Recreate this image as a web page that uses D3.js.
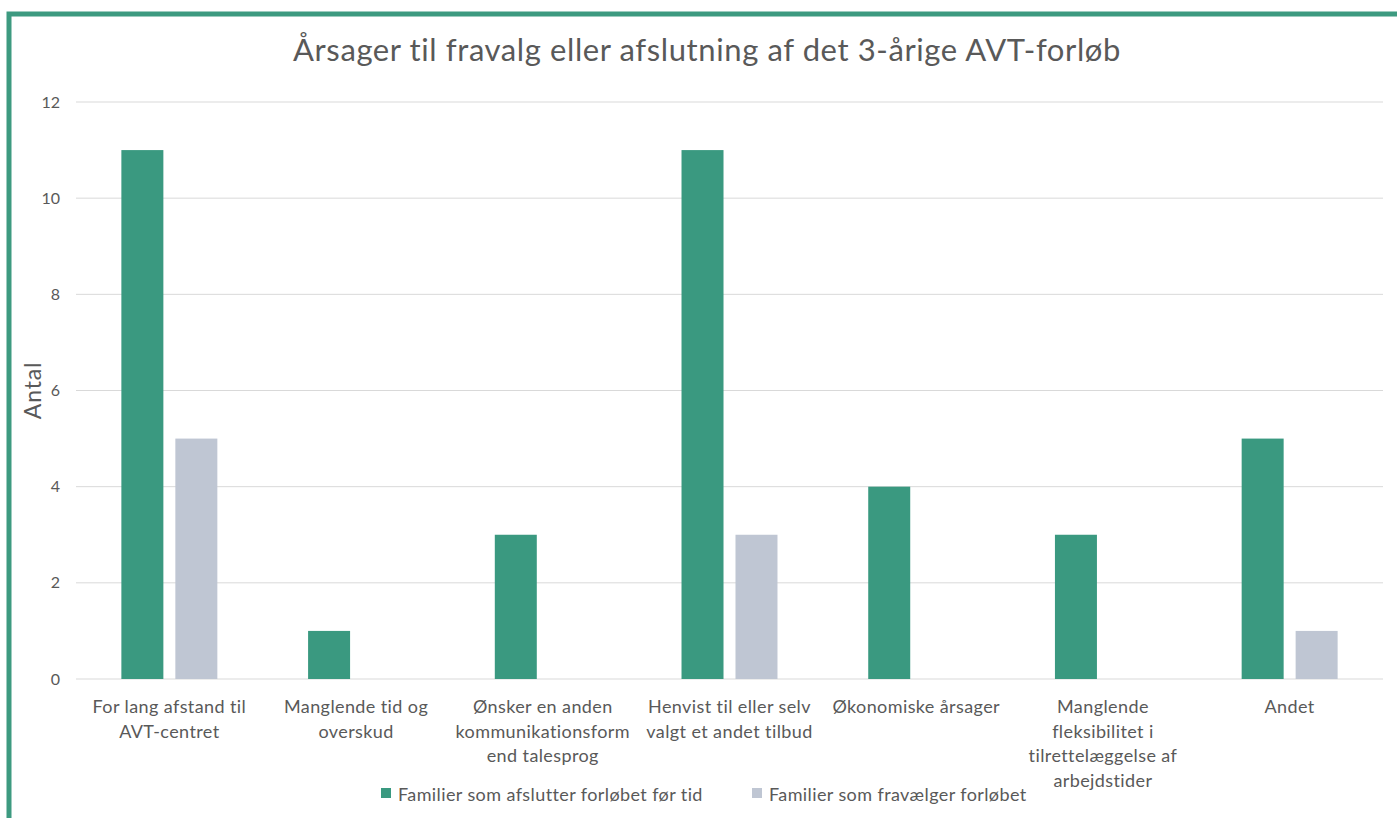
<!DOCTYPE html>
<html>
<head>
<meta charset="utf-8">
<script src="https://cdn.jsdelivr.net/npm/d3@7"></script>
<style>
  body { margin: 0; background: #fff; }
  svg { display: block; font-family: Lato, "Open Sans", sans-serif; }
</style>
</head>
<body>
<div id="chart"></div>
<script>
// data
const categories = [
  "For lang afstand til AVT-centret",
  "Manglende tid og overskud",
  "Ønsker en anden kommunikationsform end talesprog",
  "Henvist til eller selv valgt et andet tilbud",
  "Økonomiske årsager",
  "Manglende fleksibilitet i tilrettelæggelse af arbejdstider",
  "Andet"
];
const categoryLines = [
  ["For lang afstand til", "AVT-centret"],
  ["Manglende tid og", "overskud"],
  ["Ønsker en anden", "kommunikationsform", "end talesprog"],
  ["Henvist til eller selv", "valgt et andet tilbud"],
  ["Økonomiske årsager"],
  ["Manglende", "fleksibilitet i", "tilrettelæggelse af", "arbejdstider"],
  ["Andet"]
];
const seriesNames = ["Familier som afslutter forløbet før tid", "Familier som fravælger forløbet"];
const afslutter = [11, 1, 3, 11, 4, 3, 5];
const fravaelger = [5, 0, 0, 3, 0, 0, 1];
const yTicks = [0, 2, 4, 6, 8, 10, 12];
const colors = ["#3A9980", "#BFC6D3"];

const W = 1397, H = 818;
const margin = { left: 76, right: 14, top: 102, bottom: 139 };
const width = W - margin.left - margin.right;
const height = H - margin.top - margin.bottom;

const svg = d3.select("#chart").append("svg")
  .attr("width", W).attr("height", H);

// outer green frame (cropped screenshot)
svg.append("rect")
  .attr("x", 9).attr("y", 14)
  .attr("width", W + 20).attr("height", H + 20)
  .attr("fill", "none")
  .attr("stroke", "#3D9A80")
  .attr("stroke-width", 5);

svg.append("text")
  .attr("x", 707).attr("y", 61)
  .attr("text-anchor", "middle")
  .attr("font-size", 31)
  .attr("letter-spacing", 0.6)
  .attr("fill", "#595959")
  .text("Årsager til fravalg eller afslutning af det 3-årige AVT-forløb");

const g = svg.append("g")
  .attr("transform", "translate(" + margin.left + "," + margin.top + ")");

const x0 = d3.scaleBand()
  .domain(categories)
  .range([0, width])
  .paddingInner(0.486)
  .paddingOuter(0.243);
const x1 = d3.scaleBand()
  .domain([0, 1])
  .range([0, x0.bandwidth()])
  .paddingInner(0.222);
const y = d3.scaleLinear()
  .domain([0, 12])
  .range([height, 0]);

// gridlines
g.append("g")
  .selectAll("line")
  .data(yTicks)
  .enter()
  .append("line")
  .attr("x1", 0).attr("x2", width)
  .attr("y1", d => y(d)).attr("y2", d => y(d))
  .attr("stroke", "#D9D9D9")
  .attr("stroke-width", 1);

// y axis labels
const yAxis = g.append("g")
  .call(d3.axisLeft(y).tickValues(yTicks).tickSize(0).tickPadding(16));
yAxis.select(".domain").remove();
yAxis.selectAll("text")
  .attr("font-family", "Lato, sans-serif")
  .attr("font-size", 16)
  .attr("fill", "#595959");

svg.append("text")
  .attr("transform", "translate(41," + (margin.top + height / 2) + ") rotate(-90)")
  .attr("text-anchor", "middle")
  .attr("font-size", 23)
  .attr("letter-spacing", 0.8)
  .attr("fill", "#595959")
  .text("Antal");

// bars
const groups = g.selectAll(".grp")
  .data(categories)
  .enter()
  .append("g")
  .attr("transform", d => "translate(" + x0(d) + ",0)");

groups.selectAll("rect")
  .data((d, i) => [afslutter[i], fravaelger[i]])
  .enter()
  .append("rect")
  .attr("x", (d, j) => x1(j))
  .attr("y", d => y(d))
  .attr("width", x1.bandwidth())
  .attr("height", d => height - y(d))
  .attr("fill", (d, j) => colors[j]);

// x axis labels
const xLabels = g.append("g");
categories.forEach((c, i) => {
  const cx = x0(c) + x0.bandwidth() / 2;
  const t = xLabels.append("text")
    .attr("x", cx)
    .attr("y", height + 34)
    .attr("text-anchor", "middle")
    .attr("font-size", 18)
    .attr("letter-spacing", 0.4)
    .attr("fill", "#595959");
  categoryLines[i].forEach((line, k) => {
    t.append("tspan")
      .attr("x", cx)
      .attr("dy", k === 0 ? 0 : 24.5)
      .text(line);
  });
});

// legend
const legendX = [381, 752];
const legend = svg.append("g");
seriesNames.forEach((s, i) => {
  legend.append("rect")
    .attr("x", legendX[i]).attr("y", 788)
    .attr("width", 10).attr("height", 10)
    .attr("fill", colors[i]);
  legend.append("text")
    .attr("x", legendX[i] + 17).attr("y", 801)
    .attr("font-size", 18)
    .attr("letter-spacing", 0.4)
    .attr("fill", "#595959")
    .text(s);
});
</script>
</body>
</html>
